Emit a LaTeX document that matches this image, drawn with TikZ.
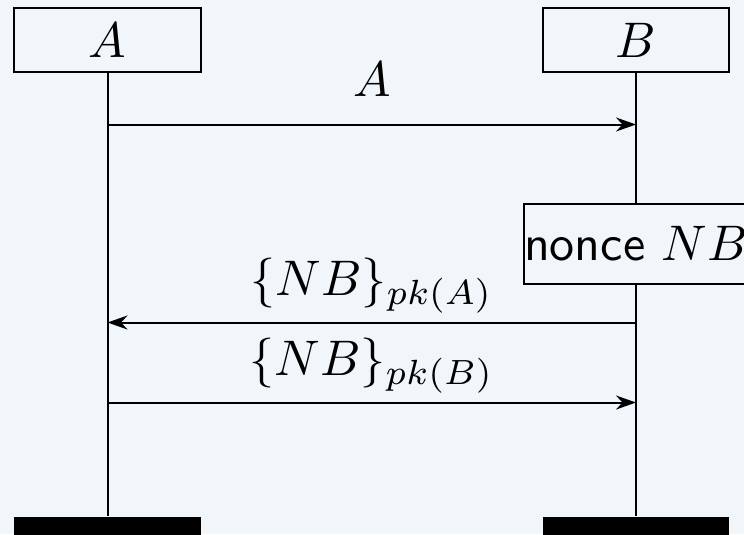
\documentclass[tikz,border=0pt]{standalone}
\usetikzlibrary{arrows.meta}
\definecolor{bgcol}{RGB}{240,246,249}
\begin{document}
\begin{tikzpicture}[x=0.2pt,y=-0.2pt,line width=0.4pt,
  instbox/.style={draw,fill=bgcol,minimum width=37.2pt,minimum height=12.8pt,inner sep=0pt},
  actbox/.style={draw,fill=bgcol,minimum width=44pt,minimum height=16pt,inner sep=0pt,font=\sffamily},
  endbar/.style={fill=black,minimum width=37.2pt,minimum height=6pt,inner sep=0pt,anchor=north},
  msg/.style={-{Stealth[length=4pt,width=2.8pt]}},
  msglabel/.style={anchor=base,inner sep=0pt}]
  % canvas
  \fill[bgcol] (0,0) rectangle (744,534);
  \useasboundingbox (0,0) rectangle (744,534);
  \clip (0,0) rectangle (744,534);

  % instance heads
  \node[instbox] (A) at (107.5,40) {$A$};
  \node[instbox] (B) at (636,40) {$B$};

  % action on B
  \node[actbox] (nonce) at (636,244) {nonce $NB$};

  % instance ends
  \node[endbar] (Aend) at (107.5,516) {};
  \node[endbar] (Bend) at (636,516) {};

  % lifelines
  \draw (A.south) -- (Aend.north);
  \draw (B.south) -- (nonce.north);
  \draw (nonce.south) -- (Bend.north);

  % message end points on the lifelines
  \coordinate (m1a) at (107.5,124.5);
  \coordinate (m1b) at (636,124.5);
  \coordinate (m2a) at (107.5,322.5);
  \coordinate (m2b) at (636,322.5);
  \coordinate (m3a) at (107.5,402.5);
  \coordinate (m3b) at (636,402.5);

  % messages
  \draw[msg] (m1a) -- (m1b);
  \draw[msg] (m2b) -- (m2a);
  \draw[msg] (m3a) -- (m3b);

  % message labels
  \node[msglabel] (l1) at (371.75,96) {$A$};
  \node[msglabel] (l2) at (371.75,295) {$\{NB\}_{pk(A)}$};
  \node[msglabel] (l3) at (371.75,375) {$\{NB\}_{pk(B)}$};
\end{tikzpicture}
\end{document}
